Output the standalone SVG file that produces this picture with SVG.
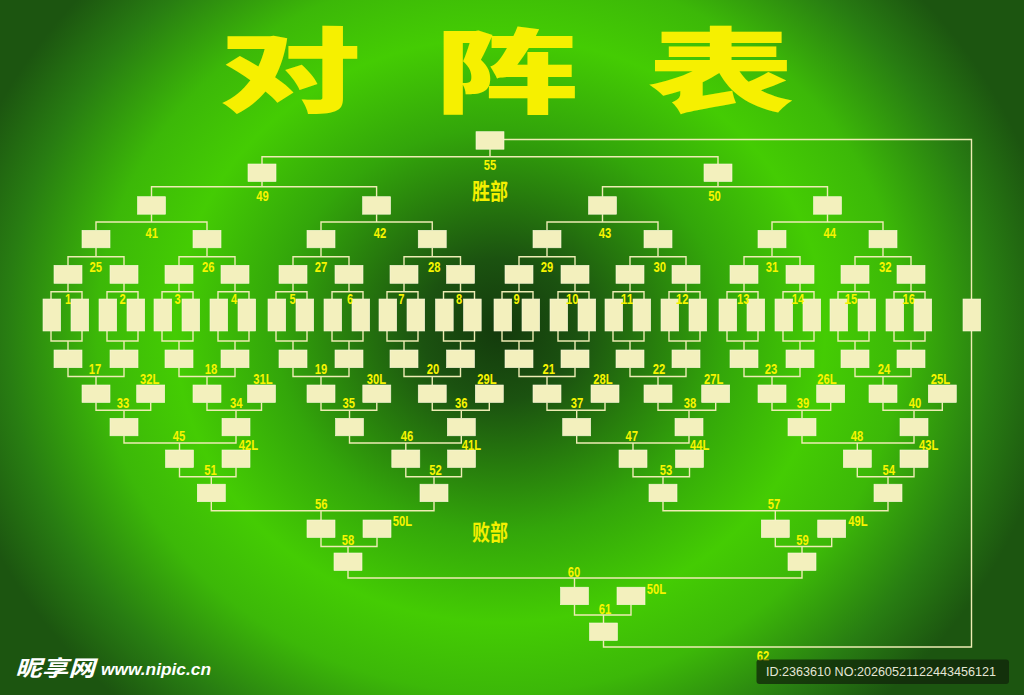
<svg xmlns="http://www.w3.org/2000/svg" width="1024" height="695" viewBox="0 0 1024 695">
<defs>
<radialGradient id="bg" cx="500" cy="330" r="560" gradientUnits="userSpaceOnUse" gradientTransform="translate(500 330) scale(1 0.9) translate(-500 -330)">
<stop offset="0" stop-color="#133a0c"/>
<stop offset="0.14" stop-color="#1b5210"/>
<stop offset="0.4" stop-color="#33a60a"/>
<stop offset="0.58" stop-color="#44cc03"/>
<stop offset="0.72" stop-color="#3cb808"/>
<stop offset="0.88" stop-color="#287d12"/>
<stop offset="1" stop-color="#1c5510"/>
</radialGradient>
<style>
.b{fill:#f3f0bd;stroke:#fbf9dc;stroke-width:0.6}
.l{fill:none;stroke:#eeecb4;stroke-width:1.4}
.n{font-family:"Liberation Sans",Arial,sans-serif;font-weight:bold;font-size:14px;fill:#f7f400;text-anchor:middle}
.nl{font-family:"Liberation Sans",Arial,sans-serif;font-weight:bold;font-size:14px;fill:#f7f400;text-anchor:start}
.ti{font-family:"Noto Sans CJK SC","Noto Sans CJK JP",sans-serif;font-weight:900;font-size:92px;fill:#f6f000;text-anchor:middle}
.sec{font-family:"Noto Sans CJK SC","Noto Sans CJK JP",sans-serif;font-weight:bold;font-size:22px;fill:#f4f000}
</style>
</defs>
<rect width="1024" height="695" fill="url(#bg)"/>

<g id="title">
<text class="ti" transform="translate(290 104.5) scale(1.55 1)">对</text>
<text class="ti" transform="translate(507 105.5) scale(1.56 1)">阵</text>
<text class="ti" transform="translate(721 105) scale(1.6 1)">表</text>
</g>
<text class="sec" x="472" y="198.5" textLength="36" lengthAdjust="spacingAndGlyphs">胜部</text>
<text class="sec" x="472" y="540" textLength="36" lengthAdjust="spacingAndGlyphs">败部</text>

<g id="connectors" class="l">
<path d="M504,139.5H971.5V299M971.5,331V647H603.5V640.5"/>
<path d="M262,164V156.7H718V164M490,149.2V156.7"/>
<path d="M151.5,196.7V186.7H376.6V196.7M262,181.5V186.7M602.5,196.7V186.7H827.5V196.7M718,181.5V186.7"/>
<path d="M96,230.3V222H207V230.3M151.5,214.2V222M321,230.3V222H432.25V230.3M376.6,214.2V222M547,230.3V222H658V230.3M602.5,214.2V222M772,230.3V222H883V230.3M827.5,214.2V222"/>
<path d="M68,265.3V256.7H124V265.3M96,247.8V256.7M179,265.3V256.7H235V265.3M207,247.8V256.7M293,265.3V256.7H349V265.3M321,247.8V256.7M404,265.3V256.7H460.5V265.3M432.25,247.8V256.7M519,265.3V256.7H575V265.3M547,247.8V256.7M630,265.3V256.7H686V265.3M658,247.8V256.7M744,265.3V256.7H800V265.3M772,247.8V256.7M855,265.3V256.7H911V265.3M883,247.8V256.7"/>
<path d="M51,299V291.7H82V299M68,283.3V291.7M107,299V291.7H138V299M124,283.3V291.7M162,299V291.7H193V299M179,283.3V291.7M218,299V291.7H249V299M235,283.3V291.7M276,299V291.7H307V299M293,283.3V291.7M332,299V291.7H363V299M349,283.3V291.7M387,299V291.7H418V299M404,283.3V291.7M443.5,299V291.7H474.5V299M460.5,283.3V291.7M502,299V291.7H533V299M519,283.3V291.7M558,299V291.7H589V299M575,283.3V291.7M613,299V291.7H644V299M630,283.3V291.7M669,299V291.7H700V299M686,283.3V291.7M727,299V291.7H758V299M744,283.3V291.7M783,299V291.7H814V299M800,283.3V291.7M838,299V291.7H869V299M855,283.3V291.7M894,299V291.7H925V299M911,283.3V291.7"/>
<path d="M51,331V341H82V331M68,341V350M107,331V341H138V331M124,341V350M162,331V341H193V331M179,341V350M218,331V341H249V331M235,341V350M276,331V341H307V331M293,341V350M332,331V341H363V331M349,341V350M387,331V341H418V331M404,341V350M443.5,331V341H474.5V331M460.5,341V350M502,331V341H533V331M519,341V350M558,331V341H589V331M575,341V350M613,331V341H644V331M630,341V350M669,331V341H700V331M686,341V350M727,331V341H758V331M744,341V350M783,331V341H814V331M800,341V350M838,331V341H869V331M855,341V350M894,331V341H925V331M911,341V350"/>
<path d="M68,367.7V376.5H124V367.7M96,376.5V385M179,367.7V376.5H235V367.7M207,376.5V385M293,367.7V376.5H349V367.7M321,376.5V385M404,367.7V376.5H460.5V367.7M432.25,376.5V385M519,367.7V376.5H575V367.7M547,376.5V385M630,367.7V376.5H686V367.7M658,376.5V385M744,367.7V376.5H800V367.7M772,376.5V385M855,367.7V376.5H911V367.7M883,376.5V385"/>
<path d="M96,402.5V410.3H150.7V402.5M124,410.3V418.3M207,402.5V410.3H261.5V402.5M236,410.3V418.3M321,402.5V410.3H376.8V402.5M349.5,410.3V418.3M432.25,402.5V410.3H489.3V402.5M461.3,410.3V418.3M547,402.5V410.3H605V402.5M576.7,410.3V418.3M658,402.5V410.3H715.7V402.5M689,410.3V418.3M772,402.5V410.3H830.7V402.5M802,410.3V418.3M883,402.5V410.3H942.3V402.5M914,410.3V418.3"/>
<path d="M124,435.8V443H236V435.8M179.5,443V450M349.5,435.8V443H461.3V435.8M405.8,443V450M576.7,435.8V443H689V435.8M633,443V450M802,435.8V443H914V435.8M857.3,443V450"/>
<path d="M179.5,467.5V476.7H236V467.5M211.3,476.7V484.2M405.8,467.5V476.7H461.5V467.5M434,476.7V484.2M633,467.5V476.7H689.5V467.5M663,476.7V484.2M857.3,467.5V476.7H914V467.5M888,476.7V484.2"/>
<path d="M211.3,501.7V510.8H434V501.7M321,510.8V520M663,501.7V510.8H888V501.7M775.3,510.8V520"/>
<path d="M321,537.5V546.5H377V537.5M348,546.5V553M775.3,537.5V546.5H831.7V537.5M802,546.5V553"/>
<path d="M348,570.5V578H802V570.5M574.5,578V587.2"/>
<path d="M574.5,604.7V615H631V604.7M603.5,615V623"/>
</g>

<g id="winners">
<g id="w55"><rect class="b" x="476" y="131.7" width="28" height="17.5"/></g>
<g id="w49"><rect class="b" x="248" y="164" width="28" height="17.5"/></g>
<g id="w50"><rect class="b" x="704" y="164" width="28" height="17.5"/></g>
<g id="w41"><rect class="b" x="137.5" y="196.7" width="28" height="17.5"/></g>
<g id="w42"><rect class="b" x="362.6" y="196.7" width="28" height="17.5"/></g>
<g id="w43"><rect class="b" x="588.5" y="196.7" width="28" height="17.5"/></g>
<g id="w44"><rect class="b" x="813.5" y="196.7" width="28" height="17.5"/></g>
<g id="w25"><rect class="b" x="82" y="230.3" width="28" height="17.5"/></g>
<g id="w26"><rect class="b" x="193" y="230.3" width="28" height="17.5"/></g>
<g id="w27"><rect class="b" x="307" y="230.3" width="28" height="17.5"/></g>
<g id="w28"><rect class="b" x="418.25" y="230.3" width="28" height="17.5"/></g>
<g id="w29"><rect class="b" x="533" y="230.3" width="28" height="17.5"/></g>
<g id="w30"><rect class="b" x="644" y="230.3" width="28" height="17.5"/></g>
<g id="w31"><rect class="b" x="758" y="230.3" width="28" height="17.5"/></g>
<g id="w32"><rect class="b" x="869" y="230.3" width="28" height="17.5"/></g>
<g id="t1"><rect class="b" x="54" y="265.3" width="28" height="18"/></g>
<g id="t2"><rect class="b" x="110" y="265.3" width="28" height="18"/></g>
<g id="t3"><rect class="b" x="165" y="265.3" width="28" height="18"/></g>
<g id="t4"><rect class="b" x="221" y="265.3" width="28" height="18"/></g>
<g id="t5"><rect class="b" x="279" y="265.3" width="28" height="18"/></g>
<g id="t6"><rect class="b" x="335" y="265.3" width="28" height="18"/></g>
<g id="t7"><rect class="b" x="390" y="265.3" width="28" height="18"/></g>
<g id="t8"><rect class="b" x="446.5" y="265.3" width="28" height="18"/></g>
<g id="t9"><rect class="b" x="505" y="265.3" width="28" height="18"/></g>
<g id="t10"><rect class="b" x="561" y="265.3" width="28" height="18"/></g>
<g id="t11"><rect class="b" x="616" y="265.3" width="28" height="18"/></g>
<g id="t12"><rect class="b" x="672" y="265.3" width="28" height="18"/></g>
<g id="t13"><rect class="b" x="730" y="265.3" width="28" height="18"/></g>
<g id="t14"><rect class="b" x="786" y="265.3" width="28" height="18"/></g>
<g id="t15"><rect class="b" x="841" y="265.3" width="28" height="18"/></g>
<g id="t16"><rect class="b" x="897" y="265.3" width="28" height="18"/></g>
</g>

<g id="entries">
<g id="p1a"><rect class="b" x="43" y="299" width="17.7" height="32"/></g>
<g id="p1b"><rect class="b" x="71" y="299" width="17.7" height="32"/></g>
<g id="p2a"><rect class="b" x="99" y="299" width="17.7" height="32"/></g>
<g id="p2b"><rect class="b" x="127" y="299" width="17.7" height="32"/></g>
<g id="p3a"><rect class="b" x="154" y="299" width="17.7" height="32"/></g>
<g id="p3b"><rect class="b" x="182" y="299" width="17.7" height="32"/></g>
<g id="p4a"><rect class="b" x="210" y="299" width="17.7" height="32"/></g>
<g id="p4b"><rect class="b" x="238" y="299" width="17.7" height="32"/></g>
<g id="p5a"><rect class="b" x="268" y="299" width="17.7" height="32"/></g>
<g id="p5b"><rect class="b" x="296" y="299" width="17.7" height="32"/></g>
<g id="p6a"><rect class="b" x="324" y="299" width="17.7" height="32"/></g>
<g id="p6b"><rect class="b" x="352" y="299" width="17.7" height="32"/></g>
<g id="p7a"><rect class="b" x="379" y="299" width="17.7" height="32"/></g>
<g id="p7b"><rect class="b" x="407" y="299" width="17.7" height="32"/></g>
<g id="p8a"><rect class="b" x="435.5" y="299" width="17.7" height="32"/></g>
<g id="p8b"><rect class="b" x="463.5" y="299" width="17.7" height="32"/></g>
<g id="p9a"><rect class="b" x="494" y="299" width="17.7" height="32"/></g>
<g id="p9b"><rect class="b" x="522" y="299" width="17.7" height="32"/></g>
<g id="p10a"><rect class="b" x="550" y="299" width="17.7" height="32"/></g>
<g id="p10b"><rect class="b" x="578" y="299" width="17.7" height="32"/></g>
<g id="p11a"><rect class="b" x="605" y="299" width="17.7" height="32"/></g>
<g id="p11b"><rect class="b" x="633" y="299" width="17.7" height="32"/></g>
<g id="p12a"><rect class="b" x="661" y="299" width="17.7" height="32"/></g>
<g id="p12b"><rect class="b" x="689" y="299" width="17.7" height="32"/></g>
<g id="p13a"><rect class="b" x="719" y="299" width="17.7" height="32"/></g>
<g id="p13b"><rect class="b" x="747" y="299" width="17.7" height="32"/></g>
<g id="p14a"><rect class="b" x="775" y="299" width="17.7" height="32"/></g>
<g id="p14b"><rect class="b" x="803" y="299" width="17.7" height="32"/></g>
<g id="p15a"><rect class="b" x="830" y="299" width="17.7" height="32"/></g>
<g id="p15b"><rect class="b" x="858" y="299" width="17.7" height="32"/></g>
<g id="p16a"><rect class="b" x="886" y="299" width="17.7" height="32"/></g>
<g id="p16b"><rect class="b" x="914" y="299" width="17.7" height="32"/></g>
<g id="champion"><rect class="b" x="963" y="299" width="17.7" height="32"/></g>
</g>

<g id="losers">
<g id="b1"><rect class="b" x="54" y="350" width="28" height="17.7"/></g>
<g id="b2"><rect class="b" x="110" y="350" width="28" height="17.7"/></g>
<g id="b3"><rect class="b" x="165" y="350" width="28" height="17.7"/></g>
<g id="b4"><rect class="b" x="221" y="350" width="28" height="17.7"/></g>
<g id="b5"><rect class="b" x="279" y="350" width="28" height="17.7"/></g>
<g id="b6"><rect class="b" x="335" y="350" width="28" height="17.7"/></g>
<g id="b7"><rect class="b" x="390" y="350" width="28" height="17.7"/></g>
<g id="b8"><rect class="b" x="446.5" y="350" width="28" height="17.7"/></g>
<g id="b9"><rect class="b" x="505" y="350" width="28" height="17.7"/></g>
<g id="b10"><rect class="b" x="561" y="350" width="28" height="17.7"/></g>
<g id="b11"><rect class="b" x="616" y="350" width="28" height="17.7"/></g>
<g id="b12"><rect class="b" x="672" y="350" width="28" height="17.7"/></g>
<g id="b13"><rect class="b" x="730" y="350" width="28" height="17.7"/></g>
<g id="b14"><rect class="b" x="786" y="350" width="28" height="17.7"/></g>
<g id="b15"><rect class="b" x="841" y="350" width="28" height="17.7"/></g>
<g id="b16"><rect class="b" x="897" y="350" width="28" height="17.7"/></g>
<g id="r17"><rect class="b" x="82" y="385" width="28" height="17.5"/></g>
<g id="l32"><rect class="b" x="136.7" y="385" width="28" height="17.5"/></g>
<g id="r18"><rect class="b" x="193" y="385" width="28" height="17.5"/></g>
<g id="l31"><rect class="b" x="247.5" y="385" width="28" height="17.5"/></g>
<g id="r19"><rect class="b" x="307" y="385" width="28" height="17.5"/></g>
<g id="l30"><rect class="b" x="362.8" y="385" width="28" height="17.5"/></g>
<g id="r20"><rect class="b" x="418.25" y="385" width="28" height="17.5"/></g>
<g id="l29"><rect class="b" x="475.3" y="385" width="28" height="17.5"/></g>
<g id="r21"><rect class="b" x="533" y="385" width="28" height="17.5"/></g>
<g id="l28"><rect class="b" x="591" y="385" width="28" height="17.5"/></g>
<g id="r22"><rect class="b" x="644" y="385" width="28" height="17.5"/></g>
<g id="l27"><rect class="b" x="701.7" y="385" width="28" height="17.5"/></g>
<g id="r23"><rect class="b" x="758" y="385" width="28" height="17.5"/></g>
<g id="l26"><rect class="b" x="816.7" y="385" width="28" height="17.5"/></g>
<g id="r24"><rect class="b" x="869" y="385" width="28" height="17.5"/></g>
<g id="l25"><rect class="b" x="928.3" y="385" width="28" height="17.5"/></g>
<g id="r33"><rect class="b" x="110" y="418.3" width="28" height="17.5"/></g>
<g id="r34"><rect class="b" x="222" y="418.3" width="28" height="17.5"/></g>
<g id="r35"><rect class="b" x="335.5" y="418.3" width="28" height="17.5"/></g>
<g id="r36"><rect class="b" x="447.3" y="418.3" width="28" height="17.5"/></g>
<g id="r37"><rect class="b" x="562.7" y="418.3" width="28" height="17.5"/></g>
<g id="r38"><rect class="b" x="675" y="418.3" width="28" height="17.5"/></g>
<g id="r39"><rect class="b" x="788" y="418.3" width="28" height="17.5"/></g>
<g id="r40"><rect class="b" x="900" y="418.3" width="28" height="17.5"/></g>
<g id="r45"><rect class="b" x="165.5" y="450" width="28" height="17.5"/></g>
<g id="l42"><rect class="b" x="222" y="450" width="28" height="17.5"/></g>
<g id="r46"><rect class="b" x="391.8" y="450" width="28" height="17.5"/></g>
<g id="l41"><rect class="b" x="447.5" y="450" width="28" height="17.5"/></g>
<g id="r47"><rect class="b" x="619" y="450" width="28" height="17.5"/></g>
<g id="l44"><rect class="b" x="675.5" y="450" width="28" height="17.5"/></g>
<g id="r48"><rect class="b" x="843.3" y="450" width="28" height="17.5"/></g>
<g id="l43"><rect class="b" x="900" y="450" width="28" height="17.5"/></g>
<g id="r51"><rect class="b" x="197.3" y="484.2" width="28" height="17.5"/></g>
<g id="r52"><rect class="b" x="420" y="484.2" width="28" height="17.5"/></g>
<g id="r53"><rect class="b" x="649" y="484.2" width="28" height="17.5"/></g>
<g id="r54"><rect class="b" x="874" y="484.2" width="28" height="17.5"/></g>
<g id="r56"><rect class="b" x="307" y="520" width="28" height="17.5"/></g>
<g id="l50"><rect class="b" x="363" y="520" width="28" height="17.5"/></g>
<g id="r57"><rect class="b" x="761.3" y="520" width="28" height="17.5"/></g>
<g id="l49"><rect class="b" x="817.7" y="520" width="28" height="17.5"/></g>
<g id="r58"><rect class="b" x="334" y="553" width="28" height="17.5"/></g>
<g id="r59"><rect class="b" x="788" y="553" width="28" height="17.5"/></g>
<g id="r60"><rect class="b" x="560.5" y="587.2" width="28" height="17.5"/></g>
<g id="l50b"><rect class="b" x="617" y="587.2" width="28" height="17.5"/></g>
<g id="r61"><rect class="b" x="589.5" y="623" width="28" height="17.5"/></g>
</g>

<g id="labels">
<text class="n" x="490" y="170" textLength="12.5" lengthAdjust="spacingAndGlyphs">55</text>
<text class="n" x="262.5" y="201" textLength="12.5" lengthAdjust="spacingAndGlyphs">49</text>
<text class="n" x="714.5" y="201" textLength="12.5" lengthAdjust="spacingAndGlyphs">50</text>
<text class="n" x="151.7" y="237.5" textLength="12.5" lengthAdjust="spacingAndGlyphs">41</text>
<text class="n" x="380" y="237.5" textLength="12.5" lengthAdjust="spacingAndGlyphs">42</text>
<text class="n" x="605" y="237.5" textLength="12.5" lengthAdjust="spacingAndGlyphs">43</text>
<text class="n" x="829.7" y="237.5" textLength="12.5" lengthAdjust="spacingAndGlyphs">44</text>
<text class="n" x="95.7" y="271.5" textLength="12.5" lengthAdjust="spacingAndGlyphs">25</text>
<text class="n" x="208.3" y="271.5" textLength="12.5" lengthAdjust="spacingAndGlyphs">26</text>
<text class="n" x="321" y="271.5" textLength="12.5" lengthAdjust="spacingAndGlyphs">27</text>
<text class="n" x="434.2" y="271.5" textLength="12.5" lengthAdjust="spacingAndGlyphs">28</text>
<text class="n" x="547" y="271.5" textLength="12.5" lengthAdjust="spacingAndGlyphs">29</text>
<text class="n" x="659.7" y="271.5" textLength="12.5" lengthAdjust="spacingAndGlyphs">30</text>
<text class="n" x="772" y="271.5" textLength="12.5" lengthAdjust="spacingAndGlyphs">31</text>
<text class="n" x="885.3" y="271.5" textLength="12.5" lengthAdjust="spacingAndGlyphs">32</text>
<text class="n" x="68" y="304" textLength="6.2" lengthAdjust="spacingAndGlyphs">1</text>
<text class="n" x="122.5" y="304" textLength="6.2" lengthAdjust="spacingAndGlyphs">2</text>
<text class="n" x="177.5" y="304" textLength="6.2" lengthAdjust="spacingAndGlyphs">3</text>
<text class="n" x="234" y="304" textLength="6.2" lengthAdjust="spacingAndGlyphs">4</text>
<text class="n" x="292.5" y="304" textLength="6.2" lengthAdjust="spacingAndGlyphs">5</text>
<text class="n" x="350" y="304" textLength="6.2" lengthAdjust="spacingAndGlyphs">6</text>
<text class="n" x="401.3" y="304" textLength="6.2" lengthAdjust="spacingAndGlyphs">7</text>
<text class="n" x="459" y="304" textLength="6.2" lengthAdjust="spacingAndGlyphs">8</text>
<text class="n" x="516.7" y="304" textLength="6.2" lengthAdjust="spacingAndGlyphs">9</text>
<text class="n" x="572.3" y="304" textLength="12.5" lengthAdjust="spacingAndGlyphs">10</text>
<text class="n" x="627" y="304" textLength="12.5" lengthAdjust="spacingAndGlyphs">11</text>
<text class="n" x="682.3" y="304" textLength="12.5" lengthAdjust="spacingAndGlyphs">12</text>
<text class="n" x="743.3" y="304" textLength="12.5" lengthAdjust="spacingAndGlyphs">13</text>
<text class="n" x="798" y="304" textLength="12.5" lengthAdjust="spacingAndGlyphs">14</text>
<text class="n" x="851" y="304" textLength="12.5" lengthAdjust="spacingAndGlyphs">15</text>
<text class="n" x="908.7" y="304" textLength="12.5" lengthAdjust="spacingAndGlyphs">16</text>
<text class="n" x="95" y="373.5" textLength="12.5" lengthAdjust="spacingAndGlyphs">17</text>
<text class="n" x="211" y="373.5" textLength="12.5" lengthAdjust="spacingAndGlyphs">18</text>
<text class="n" x="321" y="373.5" textLength="12.5" lengthAdjust="spacingAndGlyphs">19</text>
<text class="n" x="433" y="373.5" textLength="12.5" lengthAdjust="spacingAndGlyphs">20</text>
<text class="n" x="548.8" y="373.5" textLength="12.5" lengthAdjust="spacingAndGlyphs">21</text>
<text class="n" x="659" y="373.5" textLength="12.5" lengthAdjust="spacingAndGlyphs">22</text>
<text class="n" x="771" y="373.5" textLength="12.5" lengthAdjust="spacingAndGlyphs">23</text>
<text class="n" x="884" y="373.5" textLength="12.5" lengthAdjust="spacingAndGlyphs">24</text>
<text class="nl" x="140" y="384" textLength="19.3" lengthAdjust="spacingAndGlyphs">32L</text>
<text class="nl" x="253.3" y="384" textLength="19.3" lengthAdjust="spacingAndGlyphs">31L</text>
<text class="nl" x="366.7" y="384" textLength="19.3" lengthAdjust="spacingAndGlyphs">30L</text>
<text class="nl" x="477.3" y="384" textLength="19.3" lengthAdjust="spacingAndGlyphs">29L</text>
<text class="nl" x="593.3" y="384" textLength="19.3" lengthAdjust="spacingAndGlyphs">28L</text>
<text class="nl" x="704" y="384" textLength="19.3" lengthAdjust="spacingAndGlyphs">27L</text>
<text class="nl" x="817.3" y="384" textLength="19.3" lengthAdjust="spacingAndGlyphs">26L</text>
<text class="nl" x="930.7" y="384" textLength="19.3" lengthAdjust="spacingAndGlyphs">25L</text>
<text class="n" x="123" y="408.3" textLength="12.5" lengthAdjust="spacingAndGlyphs">33</text>
<text class="n" x="236.3" y="408.3" textLength="12.5" lengthAdjust="spacingAndGlyphs">34</text>
<text class="n" x="348.7" y="408.3" textLength="12.5" lengthAdjust="spacingAndGlyphs">35</text>
<text class="n" x="461.3" y="408.3" textLength="12.5" lengthAdjust="spacingAndGlyphs">36</text>
<text class="n" x="577" y="408.3" textLength="12.5" lengthAdjust="spacingAndGlyphs">37</text>
<text class="n" x="690" y="408.3" textLength="12.5" lengthAdjust="spacingAndGlyphs">38</text>
<text class="n" x="803" y="408.3" textLength="12.5" lengthAdjust="spacingAndGlyphs">39</text>
<text class="n" x="915" y="408.3" textLength="12.5" lengthAdjust="spacingAndGlyphs">40</text>
<text class="n" x="179" y="441" textLength="12.5" lengthAdjust="spacingAndGlyphs">45</text>
<text class="n" x="407" y="441" textLength="12.5" lengthAdjust="spacingAndGlyphs">46</text>
<text class="n" x="631.8" y="441" textLength="12.5" lengthAdjust="spacingAndGlyphs">47</text>
<text class="n" x="857" y="441" textLength="12.5" lengthAdjust="spacingAndGlyphs">48</text>
<text class="nl" x="238.7" y="450" textLength="19.3" lengthAdjust="spacingAndGlyphs">42L</text>
<text class="nl" x="461.7" y="450" textLength="19.3" lengthAdjust="spacingAndGlyphs">41L</text>
<text class="nl" x="690" y="450" textLength="19.3" lengthAdjust="spacingAndGlyphs">44L</text>
<text class="nl" x="919" y="450" textLength="19.3" lengthAdjust="spacingAndGlyphs">43L</text>
<text class="n" x="210.5" y="475" textLength="12.5" lengthAdjust="spacingAndGlyphs">51</text>
<text class="n" x="435.5" y="475" textLength="12.5" lengthAdjust="spacingAndGlyphs">52</text>
<text class="n" x="666" y="475" textLength="12.5" lengthAdjust="spacingAndGlyphs">53</text>
<text class="n" x="888.7" y="475" textLength="12.5" lengthAdjust="spacingAndGlyphs">54</text>
<text class="n" x="321.3" y="509" textLength="12.5" lengthAdjust="spacingAndGlyphs">56</text>
<text class="n" x="774" y="509" textLength="12.5" lengthAdjust="spacingAndGlyphs">57</text>
<text class="nl" x="392.7" y="526" textLength="19.3" lengthAdjust="spacingAndGlyphs">50L</text>
<text class="nl" x="848.3" y="526" textLength="19.3" lengthAdjust="spacingAndGlyphs">49L</text>
<text class="n" x="348" y="544.5" textLength="12.5" lengthAdjust="spacingAndGlyphs">58</text>
<text class="n" x="802.5" y="544.5" textLength="12.5" lengthAdjust="spacingAndGlyphs">59</text>
<text class="n" x="574" y="576.5" textLength="12.5" lengthAdjust="spacingAndGlyphs">60</text>
<text class="nl" x="646.7" y="594" textLength="19.3" lengthAdjust="spacingAndGlyphs">50L</text>
<text class="n" x="605" y="613.5" textLength="12.5" lengthAdjust="spacingAndGlyphs">61</text>
<text class="n" x="763" y="660.5" textLength="12.5" lengthAdjust="spacingAndGlyphs">62</text>
</g>

<g id="watermark">
<text x="15" y="676" font-family="Noto Sans CJK SC, sans-serif" font-size="22" font-weight="bold" font-style="italic" fill="#ffffff" textLength="80" lengthAdjust="spacingAndGlyphs">昵享网</text>
<text x="101" y="675" font-family="Liberation Sans, Arial, sans-serif" font-size="17" font-weight="bold" font-style="italic" fill="#ffffff" textLength="110" lengthAdjust="spacingAndGlyphs">www.nipic.cn</text>
<rect x="756.5" y="659.5" width="252.5" height="24.5" rx="3" fill="#10240a" fill-opacity="0.75"/>
<text x="766" y="676" font-family="Liberation Sans, Arial, sans-serif" font-size="13" fill="#e4e6d6" textLength="230" lengthAdjust="spacingAndGlyphs">ID:2363610 NO:20260521122443456121</text>
</g>
</svg>
